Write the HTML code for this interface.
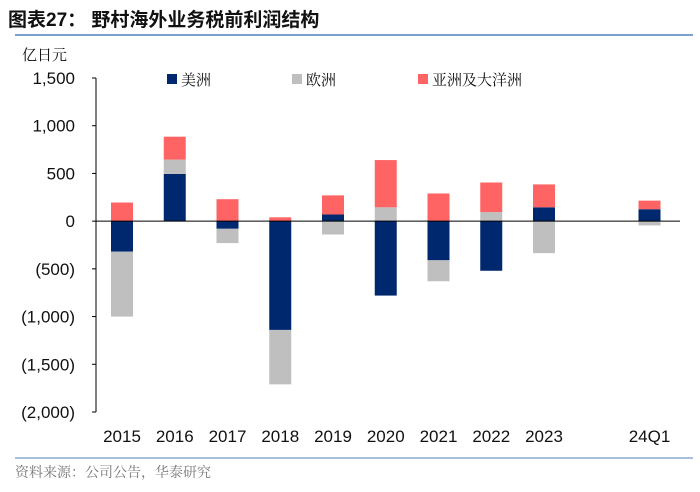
<!DOCTYPE html>
<html><head><meta charset="utf-8"><style>
body{margin:0;background:#fff;}
svg{display:block;font-family:"Liberation Sans","Noto Sans CJK SC",sans-serif;}
</style></head><body>
<svg id="c" width="700" height="492" xmlns="http://www.w3.org/2000/svg">
<text x="8" y="26" font-size="19" font-weight="bold" fill="#111">图表27：  野村海外业务税前利润结构</text>
<line x1="15" y1="35" x2="693" y2="35" stroke="#4f81bd" stroke-width="1.5"/>
<text x="22" y="60" font-size="15" fill="#111" font-family="'Noto Serif CJK SC',serif">亿日元</text>
<g id="legend"></g>
<g id="plot"></g>
<line x1="15" y1="458" x2="693" y2="458" stroke="#4f81bd" stroke-width="1"/>
<text x="15" y="477" font-size="14" fill="#777" font-family="'Noto Serif CJK SC',serif">资料来源：公司公告，华泰研究</text>
</svg>
<script>
const categories=["2015","2016","2017","2018","2019","2020","2021","2022","2023","","24Q1"];
const americas=[-320,495,-80,-1140,70,-780,-410,-520,145,null,125];
const europe=[-680,150,-150,-570,-140,145,-220,95,-335,null,-45];
const asia=[195,240,230,40,200,495,290,310,240,null,90];
const yTicks=[1500,1000,500,0,-500,-1000,-1500,-2000];
const yTickLabels=["1,500","1,000","500","0","(500)","(1,000)","(1,500)","(2,000)"];
const seriesNames=["美洲","欧洲","亚洲及大洋洲"];
const colors=["#00286e","#bfbfbf","#ff6464"];
const NS="http://www.w3.org/2000/svg";
const plot=document.getElementById('plot');
const y0=78,y1=412,vmax=1500,vmin=-2000;
function y(v){return y0+(vmax-v)/(vmax-vmin)*(y1-y0);}
const xl=96,step=52.75;
function x(i){return 122+i*step;}
function mk(tag,attrs,parent){const e=document.createElementNS(NS,tag);for(const k in attrs)e.setAttribute(k,attrs[k]);(parent||plot).appendChild(e);return e;}
yTicks.forEach((t,i)=>{
  const tx=mk('text',{x:75,y:y(t)+6,'font-size':17,'text-anchor':'end',fill:'#111'});
  tx.textContent=yTickLabels[i];
  
  
});
const series=[americas,europe,asia];
const bw=22;
categories.forEach((c,i)=>{
  let pos=0,neg=0;
  series.forEach((s,k)=>{
    const v=s[i]; if(v==null)return;
    let a,b;
    if(v>=0){a=pos;b=pos+v;pos=b;}else{a=neg;b=neg+v;neg=b;}
    const top=Math.min(y(a),y(b)),h=Math.abs(y(a)-y(b));
    const r=mk('rect',{x:x(i)-bw/2,y:top,width:bw,height:h,fill:colors[k]});
    
    
  });
  const tl=mk('text',{x:x(i),y:442,'font-size':17,'text-anchor':'middle',fill:'#111'});
  tl.textContent=c;
  
  
});
const ax=mk('line',{x1:xl,y1:y0,x2:xl,y2:y1,stroke:'#000','stroke-width':1});


yTicks.forEach(t=>{const tk=mk('line',{x1:xl-4,y1:y(t),x2:xl,y2:y(t),stroke:'#000'});

});
const xa=mk('line',{x1:xl,y1:y(0),x2:680,y2:y(0),stroke:'#000','stroke-width':1});


const lg=document.getElementById('legend');
const lx=[167,292,418];
seriesNames.forEach((n,k)=>{
  const r=mk('rect',{x:lx[k],y:74,width:10,height:10,fill:colors[k]},lg);
  
  
  const t=mk('text',{x:lx[k]+14,y:85,'font-size':15,fill:'#111','font-family':"'Noto Serif CJK SC',serif"},lg);
  t.textContent=n;
  
  
});
</script>
</body></html>
